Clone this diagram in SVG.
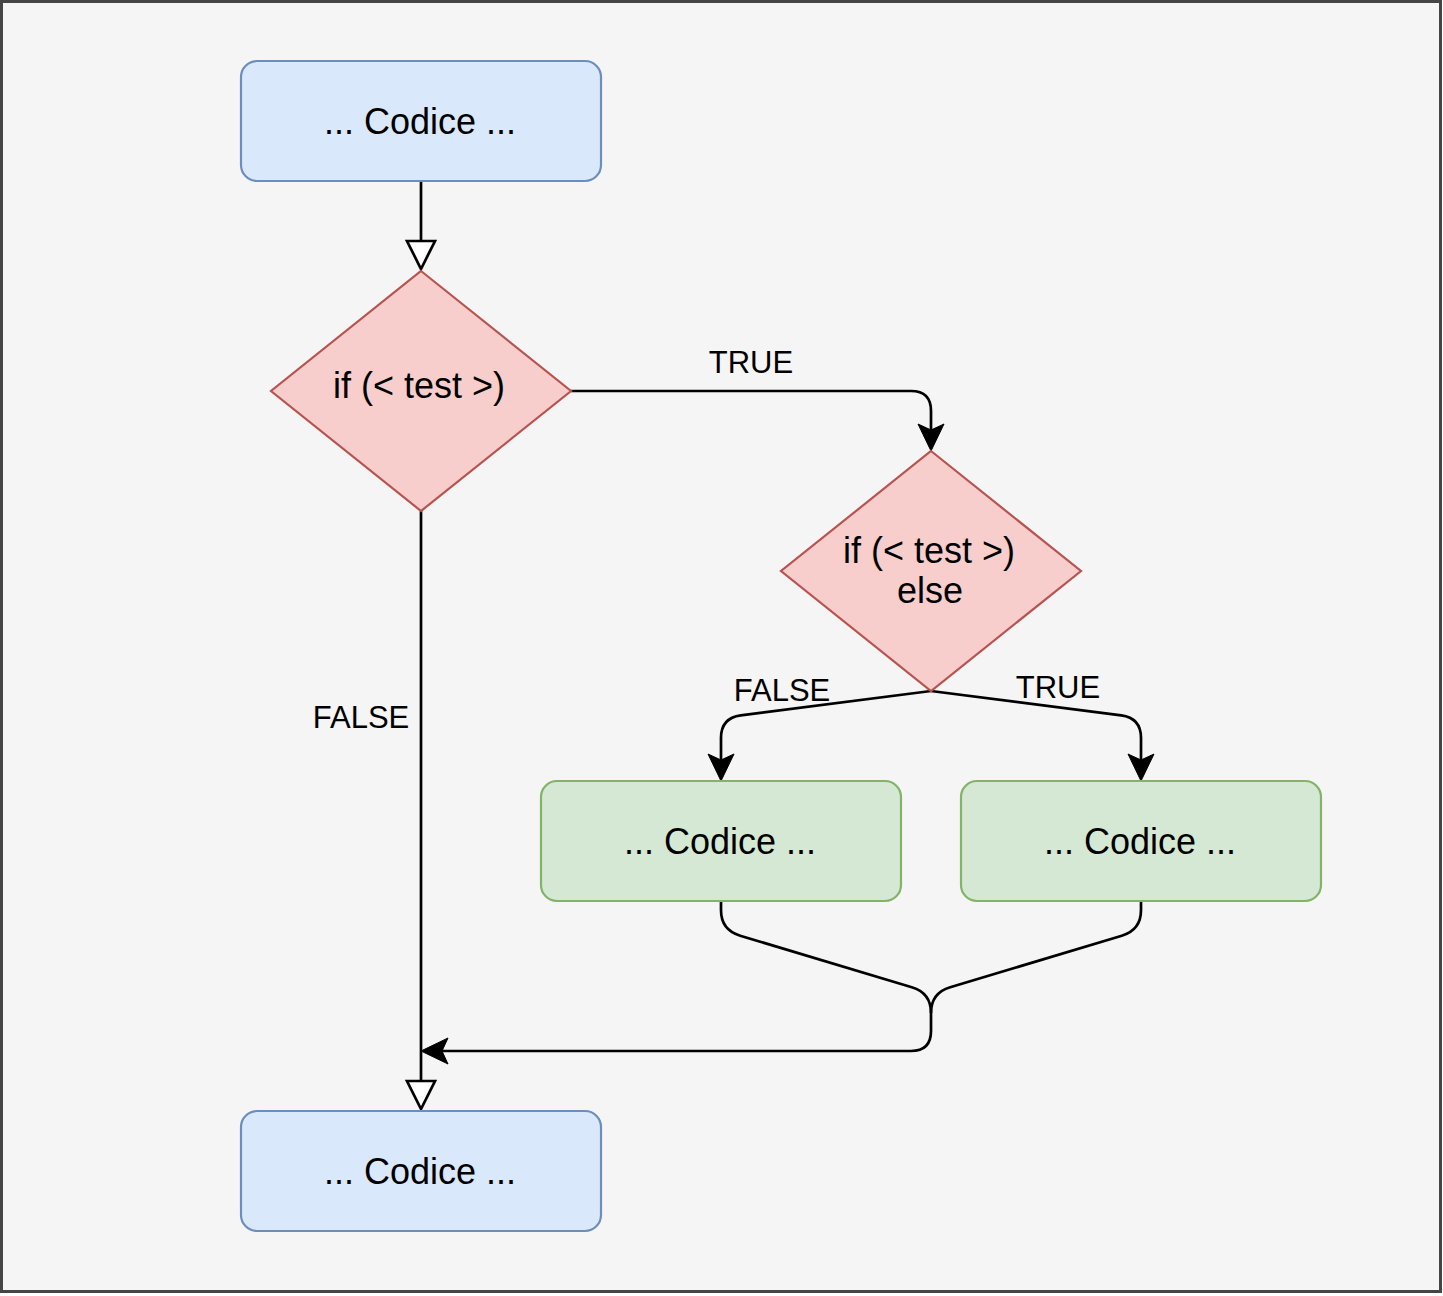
<svg xmlns="http://www.w3.org/2000/svg" width="1443" height="1296" viewBox="0 0 1443 1296">
  <style>
    .blue { fill: #dae8fc; stroke: #6c8ebf; stroke-width: 2.2; }
    .green { fill: #d5e8d4; stroke: #82b366; stroke-width: 2.2; }
    .red { fill: #f8cecc; stroke: #b85450; stroke-width: 2.2; }
    .edge { fill: none; stroke: #000000; stroke-width: 2.7; }
    .txt { font-family: "Liberation Sans", Arial, Helvetica, sans-serif; font-size: 36px; fill: #000000; text-anchor: middle; }
    .lbl { font-family: "Liberation Sans", Arial, Helvetica, sans-serif; font-size: 31px; fill: #000000; text-anchor: middle; }
    .open { fill: #ffffff; stroke: #000000; stroke-width: 2.7; stroke-linejoin: miter; }
    .head { fill: #000000; stroke: #000000; stroke-width: 1; stroke-linejoin: miter; }
  </style>
  <rect x="1.5" y="1.5" width="1439" height="1290" fill="#f5f5f5" stroke="#454545" stroke-width="3"/>

  <g id="connectors">
    <!-- top rect to diamond 1 -->
    <path class="edge" d="M421 181 L421 241"/>
    <path class="open" d="M407 241 L435 241 L421 269 Z"/>
    <!-- diamond 1 TRUE to diamond 2 -->
    <path class="edge" d="M571 391 L911 391 Q931 391 931 411 L931 432"/>
    <path class="head" d="M931 451 L918 424 L931 430 L944 424 Z"/>
    <text class="lbl" x="751" y="373">TRUE</text>
    <!-- diamond 1 FALSE down to bottom rect -->
    <path class="edge" d="M421 511 L421 1081"/>
    <path class="open" d="M407 1081 L435 1081 L421 1109 Z"/>
    <text class="lbl" x="361" y="728">FALSE</text>
    <!-- diamond 2 FALSE to left green -->
    <path class="edge" d="M931 691 L740.8 715.4 Q721 718 721 738 L721 762"/>
    <path class="head" d="M721 781 L708 754 L721 760 L734 754 Z"/>
    <text class="lbl" x="782" y="701">FALSE</text>
    <!-- diamond 2 TRUE to right green -->
    <path class="edge" d="M931 691 L1121.2 715.4 Q1141 718 1141 738 L1141 762"/>
    <path class="head" d="M1141 781 L1128 754 L1141 760 L1154 754 Z"/>
    <text class="lbl" x="1058" y="698">TRUE</text>
    <!-- merge from green boxes -->
    <path class="edge" d="M721 901 L721 910 Q721 930 740.2 935.7 L911.8 987.3 Q931 993 931 1013 L931 1031 Q931 1051 911 1051 L440 1051"/>
    <path class="edge" d="M1141 901 L1141 910 Q1141 930 1121.8 935.7 L950.2 987.3 Q931 993 931 1013"/>
    <path class="head" d="M421 1051 L448 1038 L442 1051 L448 1064 Z"/>
  </g>

  <g id="start">
    <rect class="blue" x="241" y="61" width="360" height="120" rx="16" ry="16"/>
    <text class="txt" x="420" y="134">... Codice ...</text>
  </g>

  <g id="if1">
    <polygon class="red" points="421,271 571,391 421,511 271,391"/>
    <text class="txt" x="419" y="398">if (&lt; test &gt;)</text>
  </g>

  <g id="if2">
    <polygon class="red" points="931,451 1081,571 931,691 781,571"/>
    <text class="txt" x="929" y="563">if (&lt; test &gt;)</text>
    <text class="txt" x="930" y="603">else</text>
  </g>

  <g id="code-false">
    <rect class="green" x="541" y="781" width="360" height="120" rx="16" ry="16"/>
    <text class="txt" x="720" y="854">... Codice ...</text>
  </g>

  <g id="code-true">
    <rect class="green" x="961" y="781" width="360" height="120" rx="16" ry="16"/>
    <text class="txt" x="1140" y="854">... Codice ...</text>
  </g>

  <g id="end">
    <rect class="blue" x="241" y="1111" width="360" height="120" rx="16" ry="16"/>
    <text class="txt" x="420" y="1184">... Codice ...</text>
  </g>
</svg>
